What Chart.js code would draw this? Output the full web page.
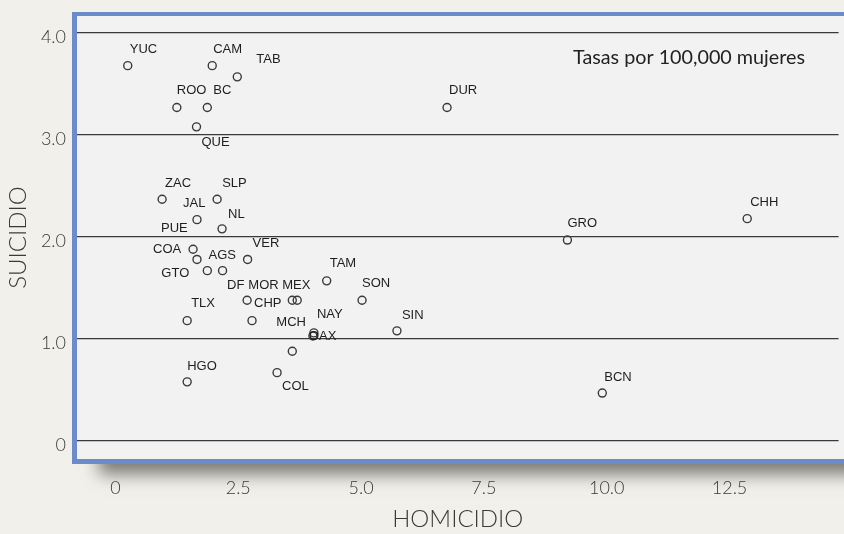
<!DOCTYPE html>
<html>
<head>
<meta charset="utf-8">
<script src="https://cdn.jsdelivr.net/npm/chart.js@4.4.1/dist/chart.umd.min.js"></script>
<style>
html,body{margin:0;padding:0;background:#f1f0ea;}
canvas{display:block;}
</style>
</head>
<body>
<canvas id="c" width="844" height="534" style="width:844px;height:534px"></canvas>
<script>
// ---- data ----
const states    = ['YUC','CAM','TAB','ROO','BC','QUE','DUR','ZAC','SLP','JAL','NL','PUE','COA','GTO','AGS','VER','TAM','DF','MOR','MEX','SON','TLX','CHP','MCH','NAY','OAX','SIN','COL','HGO','GRO','CHH','BCN'];
const homicidio = [0.25,1.97,2.48,1.25,1.87,1.65,6.75,0.95,2.07,1.66,2.17,1.58,1.66,1.87,2.18,2.69,4.30,2.68,3.60,3.70,5.02,1.46,2.78,3.60,4.04,4.02,5.73,3.29,1.46,9.20,12.86,9.91];
const suicidio  = [3.68,3.68,3.57,3.27,3.27,3.08,3.27,2.37,2.37,2.17,2.08,1.88,1.78,1.67,1.67,1.78,1.57,1.38,1.38,1.38,1.38,1.18,1.18,0.88,1.06,1.03,1.08,0.67,0.58,1.97,2.18,0.47];
const xTicks      = [0, 2.5, 5, 7.5, 10, 12.5];
const xTickLabels = ['0','2.5','5.0','7.5','10.0','12.5'];
const yTicks      = [0, 1, 2, 3, 4];
const yTickLabels = ['0','1.0','2.0','3.0','4.0'];
const xTitle = 'HOMICIDIO';
const yTitle = 'SUICIDIO';
const note   = 'Tasas por 100,000 mujeres';

// ---- label placement (pixel offsets of each text from its point) ----
const labelOffsets = {
  YUC:[2,-16], CAM:[1,-16], TAB:[19,-17], ROO:[0,-17], BC:[6,-17], QUE:[5,16], DUR:[2,-17],
  ZAC:[3,-16], SLP:[5,-16], JAL:[-14,-16], NL:[6,-14], PUE:[-32,-21], COA:[-44,-10],
  GTO:[-46,3], AGS:[-14,-15], VER:[5,-16], TAM:[3,-17], DF:[-20,-15], MOR:[-44,-15],
  MEX:[-15,-15], SON:[0,-17], TLX:[4,-17], CHP:[2,-17], MCH:[-16,-29], NAY:[3,-18],
  OAX:[-4,0], SIN:[5,-15], COL:[5,14], HGO:[0,-15], GRO:[0,-17], CHH:[3,-16], BCN:[2,-16]
};

const axisFont = "'Lato', sans-serif";
const titleFont = "'Lato', sans-serif";

const framePlugin = {
  id:'frame',
  beforeDraw(chart){
    const {ctx, chartArea:a, width, height} = chart;
    ctx.save();
    ctx.fillStyle = '#f1f0ea';
    ctx.fillRect(0,0,width,height);
    // shadow under the frame
    ctx.shadowColor = 'rgba(0,0,0,0.5)';
    ctx.shadowBlur = 16;
    ctx.shadowOffsetY = 10;
    ctx.fillStyle = '#f2f2f2';
    ctx.fillRect(a.left+22, a.top+200, width, a.bottom - a.top - 195);
    ctx.restore();
    ctx.save();
    ctx.fillStyle = '#f2f2f2';
    ctx.fillRect(a.left-5, a.top-4, width, a.bottom - a.top + 9);
    ctx.restore();
  },
  afterDraw(chart){
    const {ctx, chartArea:a, width} = chart;
    ctx.save();
    ctx.fillStyle = '#6b8bc9';
    ctx.fillRect(a.left-5, a.top-4, 5, a.bottom - a.top + 9);
    ctx.fillRect(a.left-5, a.top-4, width, 4);
    ctx.fillRect(a.left-5, a.bottom, width, 5);
    // note text, top right
    ctx.fillStyle = '#222';
    ctx.textBaseline = 'middle';
    ctx.textAlign = 'right';
    let size = 19;
    ctx.font = size + "px 'Lato', sans-serif";
    const w = ctx.measureText(note).width;
    size = size * 232 / w;
    ctx.font = size.toFixed(2) + "px 'Lato', sans-serif";
    ctx.fillText(note, 805, 58);
    ctx.restore();
  }
};

const labelPlugin = {
  id:'pointLabels',
  afterDatasetsDraw(chart){
    const {ctx} = chart;
    const meta = chart.getDatasetMeta(0);
    ctx.save();
    ctx.font = "13px 'Liberation Sans', Arial, sans-serif";
    ctx.fillStyle = '#1e1e1e';
    ctx.textAlign = 'left';
    ctx.textBaseline = 'middle';
    meta.data.forEach((pt, i) => {
      const off = labelOffsets[states[i]] || [3,-16];
      ctx.fillText(states[i], pt.x + off[0], pt.y + off[1]);
    });
    ctx.restore();
  }
};

function noPad(s){ s.paddingTop = 0; s.paddingBottom = 0; s.paddingLeft = 0; s.paddingRight = 0; }

new Chart(document.getElementById('c'), {
  type:'scatter',
  data:{
    datasets:[{
      data: states.map((s,i)=>({x:homicidio[i], y:suicidio[i]})),
      pointRadius:4,
      pointHoverRadius:4,
      pointBorderWidth:1.4,
      pointBorderColor:'#3a3a3a',
      pointBackgroundColor:'rgba(0,0,0,0)'
    }]
  },
  options:{
    responsive:false,
    animation:false,
    devicePixelRatio:1,
    events:[],
    layout:{padding:{top:16,right:0,bottom:0,left:0}},
    plugins:{legend:{display:false}, tooltip:{enabled:false}},
    scales:{
      x:{
        type:'linear', min:-0.7825, max:14.72,
        afterBuildTicks(s){ s.ticks = xTicks.map(v=>({value:v})); },
        afterFit(s){ s.height = 75; noPad(s); },
        grid:{display:false, drawTicks:false},
        border:{display:false},
        ticks:{
          padding:18, color:'#3a3a3a', maxRotation:0, autoSkip:false,
          font:{family:axisFont, size:18, weight:300},
          callback(v){ const k = xTicks.indexOf(v); return k>=0 ? xTickLabels[k] : ''; }
        },
        title:{display:true, text:xTitle, color:'#3a3a3a', padding:{top:0,bottom:0},
          font:{family:titleFont, size:24, weight:300}}
      },
      y:{
        type:'linear', min:-0.1765, max:4.1667,
        afterBuildTicks(s){ s.ticks = yTicks.map(v=>({value:v})); },
        afterFit(s){ s.width = 77; noPad(s); },
        grid:{color:'#3a3a3a', lineWidth:1.2, drawTicks:false},
        border:{display:false},
        ticks:{
          padding:11, labelOffset:4, color:'#3a3a3a', autoSkip:false,
          font:{family:axisFont, size:18, weight:300},
          callback(v){ const k = yTicks.indexOf(v); return k>=0 ? yTickLabels[k] : ''; }
        },
        title:{display:true, text:yTitle, color:'#3a3a3a', padding:{top:4,bottom:0},
          font:{family:titleFont, size:24, weight:300}}
      }
    }
  },
  plugins:[framePlugin, labelPlugin]
});
</script>
</body>
</html>
